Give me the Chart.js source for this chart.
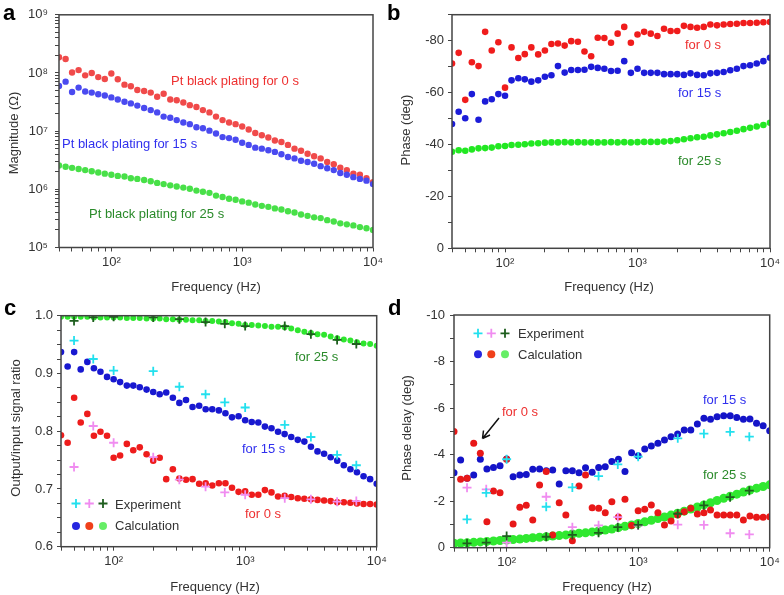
<!DOCTYPE html>
<html>
<head>
<meta charset="utf-8">
<script src="https://cdn.jsdelivr.net/npm/chart.js"></script>
<style>
  html, body { margin: 0; padding: 0; background: #fff; }
  #page { position: relative; width: 784px; height: 595px; overflow: hidden; font-family: "Liberation Sans", Arial, sans-serif; }
  #page canvas { position: absolute; left: 0; top: 0; }
  .t { position: absolute; font-size: 13px; line-height: 13px; white-space: nowrap; color: #333; }
  .xt { transform: translateX(-50%); }
  .yt { transform: translate(-50%, -50%) rotate(-90deg); }
  .letter { position: absolute; font-weight: bold; font-size: 22px; line-height: 22px; color: #000; }
  .red { color: #ee3030; }
  .blue { color: #3030ee; }
  .green { color: #2a8a2a; }
</style>
</head>
<body>
<div id="page">
  <canvas id="chartA" width="784" height="595"></canvas>
  <canvas id="chartB" width="784" height="595"></canvas>
  <canvas id="chartC" width="784" height="595"></canvas>
  <canvas id="chartD" width="784" height="595"></canvas>

  <div class="letter" style="left:3px; top:2px;">a</div>
  <div class="letter" style="left:387px; top:2px;">b</div>
  <div class="letter" style="left:4px; top:297px;">c</div>
  <div class="letter" style="left:388px; top:297px;">d</div>

  <div class="t yt" style="left:13px; top:133px;">Magnitude (Ω)</div>
  <div class="t yt" style="left:405px; top:130px;">Phase (deg)</div>
  <div class="t yt" style="left:15px; top:428px;">Output/input signal ratio</div>
  <div class="t yt" style="left:406px; top:428px;">Phase delay (deg)</div>

  <div class="t xt" style="left:216px; top:280px;">Frequency (Hz)</div>
  <div class="t xt" style="left:609px; top:280px;">Frequency (Hz)</div>
  <div class="t xt" style="left:215px; top:580px;">Frequency (Hz)</div>
  <div class="t xt" style="left:607px; top:580px;">Frequency (Hz)</div>

  <div class="t red" style="left:171px; top:74px;">Pt black plating for 0 s</div>
  <div class="t blue" style="left:62px; top:137px;">Pt black plating for 15 s</div>
  <div class="t green" style="left:89px; top:207px;">Pt black plating for 25 s</div>

  <div class="t red" style="left:685px; top:38px;">for 0 s</div>
  <div class="t blue" style="left:678px; top:86px;">for 15 s</div>
  <div class="t green" style="left:678px; top:154px;">for 25 s</div>

  <div class="t green" style="left:295px; top:350px;">for 25 s</div>
  <div class="t blue" style="left:242px; top:442px;">for 15 s</div>
  <div class="t red" style="left:245px; top:507px;">for 0 s</div>
  <div class="t" style="left:115px; top:498px;">Experiment</div>
  <div class="t" style="left:115px; top:519px;">Calculation</div>

  <div class="t" style="left:518px; top:327px;">Experiment</div>
  <div class="t" style="left:518px; top:348px;">Calculation</div>
  <div class="t red" style="left:502px; top:405px;">for 0 s</div>
  <div class="t blue" style="left:703px; top:393px;">for 15 s</div>
  <div class="t green" style="left:703px; top:468px;">for 25 s</div>
</div>

<script>
// frequency grid of the calculated curves (20 points per decade)
const freqs = [39.8, 44.7, 50.1, 56.2, 63.1, 70.8, 79.4, 89.1,
  100, 112, 126, 141, 158, 178, 200, 224, 251, 282, 316, 355, 398, 447, 501, 562, 631, 708, 794, 891,
  1000, 1122, 1259, 1413, 1585, 1778, 1995, 2239, 2512, 2818, 3162, 3548, 3981, 4467, 5012, 5623, 6310, 7079, 7943, 8913,
  10000];

// frequencies of the measured points
const expFreqs = [50, 70, 100, 200, 316, 500, 700, 1000, 2000, 3160, 5000, 7000];

// a: impedance magnitude (ohm)
const magRed = [1.86e8, 1.74e8, 1.02e8, 1.12e8, 9.1e7, 1.0e8, 8.5e7, 7.9e7, 9.8e7, 7.8e7,
  6.3e7, 5.9e7, 5.1e7, 4.9e7, 4.6e7, 3.9e7, 4.4e7, 3.5e7, 3.4e7, 3.1e7,
  2.8e7, 2.6e7, 2.3e7, 2.1e7, 1.78e7, 1.55e7, 1.41e7, 1.32e7, 1.20e7, 1.07e7,
  9.3e6, 8.5e6, 7.8e6, 6.9e6, 6.5e6, 5.8e6, 5.0e6, 4.6e6, 4.1e6, 3.7e6,
  3.4e6, 2.95e6, 2.7e6, 2.35e6, 2.14e6, 1.86e6, 1.78e6, 1.55e6, 1.32e6];
const magBlue = [6.0e7, 7.1e7, 4.7e7, 5.6e7, 4.8e7, 4.6e7, 4.3e7, 4.1e7, 3.8e7, 3.5e7,
  3.2e7, 3.0e7, 2.75e7, 2.5e7, 2.3e7, 2.1e7, 1.78e7, 1.70e7, 1.55e7, 1.41e7,
  1.32e7, 1.17e7, 1.12e7, 1.02e7, 9.1e6, 7.9e6, 7.6e6, 7.1e6, 6.3e6, 5.8e6,
  5.2e6, 5.0e6, 4.7e6, 4.4e6, 4.0e6, 3.6e6, 3.4e6, 3.1e6, 2.95e6, 2.75e6,
  2.5e6, 2.3e6, 2.14e6, 1.91e6, 1.78e6, 1.62e6, 1.51e6, 1.41e6, 1.23e6];
const magGreen = [2.57e6, 2.45e6, 2.34e6, 2.24e6, 2.14e6, 2.04e6, 1.95e6, 1.86e6, 1.78e6, 1.70e6,
  1.66e6, 1.55e6, 1.51e6, 1.45e6, 1.38e6, 1.29e6, 1.23e6, 1.17e6, 1.12e6, 1.07e6,
  1.02e6, 9.5e5, 9.1e5, 8.7e5, 7.8e5, 7.4e5, 6.9e5, 6.6e5, 6.2e5, 5.9e5,
  5.5e5, 5.2e5, 5.0e5, 4.7e5, 4.5e5, 4.2e5, 4.0e5, 3.7e5, 3.5e5, 3.3e5,
  3.2e5, 2.95e5, 2.8e5, 2.6e5, 2.5e5, 2.4e5, 2.24e5, 2.14e5, 2.0e5];

// b: impedance phase (deg)
const phaseRed = [-71.2, -75.3, -57.2, -71.7, -70.2, -83.4, -76.2, -79.4, -61.9, -77.4,
  -73.3, -74.8, -77.4, -74.7, -76.2, -78.7, -78.9, -78.1, -79.8, -79.6,
  -75.8, -74.0, -81.1, -81.0, -79.2, -82.7, -85.3, -79.2, -82.4, -83.4,
  -82.7, -81.8, -84.6, -83.7, -83.7, -85.7, -85.3, -85.0, -85.3, -86.2,
  -85.9, -86.2, -86.4, -86.5, -86.8, -86.8, -86.9, -87.1, -87.2];
const phaseBlue = [-47.9, -52.6, -50.1, -59.4, -49.5, -56.6, -57.4, -59.4, -58.8, -64.7,
  -65.5, -65.1, -64.2, -64.7, -66.1, -66.7, -70.2, -67.7, -68.7, -68.7,
  -68.8, -69.9, -69.5, -69.2, -68.3, -68.4, -72.1, -67.6, -69.2, -67.6,
  -67.6, -67.6, -67.1, -67.1, -67.1, -66.8, -67.4, -66.8, -66.7, -67.4,
  -67.6, -67.9, -68.6, -69.2, -70.2, -70.5, -71.2, -72.1, -73.4];
const phaseGreen = [-37.2, -37.8, -37.6, -38.1, -38.5, -38.6, -38.8, -39.3, -39.4, -39.8,
  -39.9, -40.1, -40.4, -40.5, -40.7, -40.8, -40.8, -40.9, -40.8, -40.9,
  -40.8, -40.8, -40.8, -40.8, -40.9, -40.8, -40.9, -40.8, -40.9, -41.0,
  -41.0, -41.0, -41.1, -41.3, -41.6, -42.0, -42.4, -42.8, -43.0, -43.5,
  -43.9, -44.3, -44.8, -45.3, -45.9, -46.4, -46.9, -47.5, -48.4];

// c: output/input signal ratio
const ratioBlue = [0.937, 0.912, 0.937, 0.907, 0.920, 0.909, 0.903, 0.894, 0.890, 0.885,
  0.879, 0.879, 0.876, 0.872, 0.868, 0.864, 0.867, 0.858, 0.849, 0.854,
  0.842, 0.844, 0.838, 0.838, 0.836, 0.831, 0.824, 0.826, 0.819, 0.816,
  0.815, 0.808, 0.805, 0.799, 0.795, 0.790, 0.785, 0.782, 0.773, 0.765,
  0.761, 0.755, 0.749, 0.741, 0.734, 0.729, 0.722, 0.717, 0.709];
const ratioRed = [0.793, 0.780, 0.858, 0.815, 0.830, 0.792, 0.799, 0.792, 0.754, 0.758,
  0.778, 0.767, 0.772, 0.760, 0.749, 0.754, 0.717, 0.734, 0.718, 0.716,
  0.717, 0.709, 0.710, 0.706, 0.710, 0.710, 0.702, 0.695, 0.696, 0.690,
  0.690, 0.698, 0.694, 0.687, 0.688, 0.686, 0.684, 0.683, 0.682, 0.681,
  0.680, 0.679, 0.677, 0.677, 0.676, 0.675, 0.674, 0.674, 0.673];
const ratioGreen = [0.998, 0.998, 0.998, 0.998, 0.998, 0.997, 0.997, 0.997, 0.997, 0.997,
  0.996, 0.996, 0.996, 0.995, 0.995, 0.995, 0.994, 0.994, 0.993, 0.993,
  0.992, 0.992, 0.991, 0.991, 0.990, 0.989, 0.987, 0.986, 0.984, 0.984,
  0.983, 0.982, 0.981, 0.981, 0.980, 0.978, 0.975, 0.972, 0.970, 0.968,
  0.967, 0.964, 0.961, 0.959, 0.957, 0.954, 0.952, 0.951, 0.948];
const ratioExpCyan = [0.957, 0.925, 0.905, 0.904, 0.877, 0.864, 0.850, 0.841, 0.811, 0.790, 0.759, 0.741];
const ratioExpPink = [0.738, 0.809, 0.780, 0.755, 0.716, 0.704, 0.694, 0.690, 0.684, 0.682, 0.678, 0.679];
const ratioExpDark = [0.991, 0.997, 0.998, 0.997, 0.994, 0.989, 0.986, 0.982, 0.982, 0.968, 0.958, 0.951];

// d: phase delay (deg)
const delayBlue = [-3.22, -3.77, -2.98, -3.12, -3.80, -3.38, -3.45, -3.52, -3.81, -3.05,
  -3.12, -3.15, -3.37, -3.38, -3.31, -3.34, -2.74, -3.31, -3.31, -3.22,
  -3.44, -3.24, -3.45, -3.48, -3.70, -3.80, -3.27, -4.08, -3.95, -4.24,
  -4.37, -4.49, -4.63, -4.77, -4.89, -5.06, -5.06, -5.32, -5.56, -5.52,
  -5.63, -5.67, -5.67, -5.59, -5.52, -5.53, -5.35, -5.24, -5.03];
const delayRed = [-4.99, -2.94, -2.98, -4.49, -4.06, -1.12, -2.44, -2.36, -3.80, -1.02,
  -1.74, -1.82, -1.19, -2.69, -3.27, -0.55, -1.93, -1.41, -0.30, -2.65,
  -3.12, -1.72, -1.69, -1.50, -1.98, -1.32, -2.08, -0.95, -1.59, -1.65,
  -1.83, -1.50, -0.98, -1.15, -1.40, -1.55, -1.69, -1.45, -1.50, -1.62,
  -1.41, -1.41, -1.41, -1.41, -1.19, -1.36, -1.31, -1.31, -1.33];
const delayGreen = [-0.19, -0.20, -0.21, -0.23, -0.25, -0.27, -0.29, -0.31, -0.33, -0.35,
  -0.37, -0.40, -0.43, -0.45, -0.47, -0.50, -0.52, -0.55, -0.59, -0.62,
  -0.64, -0.68, -0.72, -0.76, -0.80, -0.86, -0.92, -0.98, -1.04, -1.11,
  -1.18, -1.25, -1.32, -1.40, -1.48, -1.57, -1.66, -1.75, -1.84, -1.93,
  -2.03, -2.12, -2.21, -2.30, -2.39, -2.48, -2.56, -2.63, -2.70];
const delayExpCyan = [-1.22, -2.36, -3.80, -1.76, -2.59, -3.08, -3.58, -3.91, -4.70, -4.90, -4.98, -4.77];
const delayExpPink = [-2.58, -2.51, -0.22, -2.19, -0.88, -0.96, -1.31, -0.95, -0.99, -0.98, -0.62, -0.57];
const delayExpDark = [-0.19, -0.22, -0.50, -0.47, -0.55, -0.64, -0.88, -0.98, -1.46, -1.82, -2.17, -2.45];

// tick positions
const freqTicks = [40, 50, 60, 70, 80, 90, 100, 200, 300, 400, 500, 600, 700, 800, 900,
  1000, 2000, 3000, 4000, 5000, 6000, 7000, 8000, 9000, 10000];
const magTicks = [1e5, 2e5, 3e5, 4e5, 5e5, 6e5, 7e5, 8e5, 9e5, 1e6, 2e6, 3e6, 4e6, 5e6, 6e6, 7e6, 8e6, 9e6,
  1e7, 2e7, 3e7, 4e7, 5e7, 6e7, 7e7, 8e7, 9e7, 1e8, 2e8, 3e8, 4e8, 5e8, 6e8, 7e8, 8e8, 9e8, 1e9];
const phaseTicks = [-90, -80, -70, -60, -50, -40, -30, -20, -10, 0];
const ratioTicks = [0.6, 0.625, 0.65, 0.675, 0.7, 0.725, 0.75, 0.775, 0.8, 0.825, 0.85, 0.875, 0.9, 0.925, 0.95, 0.975, 1.0];
const delayTicks = [-10, -9, -8, -7, -6, -5, -4, -3, -2, -1, 0];

const FONT = "'Liberation Sans', Arial, sans-serif";
const AXIS = '#444';
const SUP = '⁰¹²³⁴⁵⁶⁷⁸⁹';

function pow10Label(v) {
    const e = Math.log10(v);
    if (Math.abs(e - Math.round(e)) > 1e-9) return '';
    return '10' + String(Math.round(e)).split('').map(d => SUP[+d]).join('');
}

function pts(xs, ys) {
    return xs.map((x, i) => ({ x: x, y: ys[i] }));
}

function dots(ys, color, r) {
    return {
        data: pts(freqs, ys),
        pointStyle: 'circle',
        pointRadius: r,
        pointBackgroundColor: color,
        pointBorderWidth: 0,
        showLine: false,
        clip: 0
    };
}

function crosses(ys, color) {
    return {
        data: pts(expFreqs, ys),
        pointStyle: 'cross',
        pointRadius: 4.5,
        pointBorderColor: color,
        pointBorderWidth: 1.8,
        showLine: false,
        clip: 0
    };
}

function tickGrid() {
    return { display: true, drawOnChartArea: false, drawTicks: true, tickLength: 4, tickColor: AXIS, tickWidth: 1 };
}

function xScale() {
    return {
        type: 'logarithmic',
        min: 39.8,
        max: 10000,
        afterBuildTicks: s => { s.ticks = freqTicks.map(v => ({ value: v })); },
        afterFit: s => { s.height = 30; },
        grid: tickGrid(),
        border: { display: false },
        ticks: {
            autoSkip: false, maxRotation: 0, padding: 3, color: '#333',
            font: { family: FONT, size: 13 },
            callback: v => pow10Label(v)
        }
    };
}

function yScale(opts, values, padding, label) {
    return Object.assign({
        afterBuildTicks: s => { s.ticks = values.map(v => ({ value: v })); },
        afterFit: s => { s.width = 40; },
        grid: tickGrid(),
        border: { display: false },
        ticks: {
            autoSkip: false, padding: padding, color: '#333',
            font: { family: FONT, size: 13 },
            callback: label
        }
    }, opts);
}

// frame around the plot area + optional legend/arrow drawing
const framePlugin = {
    id: 'frame',
    afterDraw(chart, args, opts) {
        const ctx = chart.ctx, a = chart.chartArea;
        ctx.save();
        ctx.strokeStyle = AXIS;
        ctx.lineWidth = 1.5;
        ctx.strokeRect(a.left, a.top, a.right - a.left, a.bottom - a.top);
        if (opts.extra) opts.extra(ctx);
        ctx.restore();
    }
};

function legendMarks(ctx, x0, yCross, yDot) {
    const xs = [x0, x0 + 13.3, x0 + 27];
    ['#22e0ee', '#f08cf0', '#1e5e1e'].forEach((c, i) => {
        ctx.strokeStyle = c;
        ctx.lineWidth = 1.8;
        ctx.beginPath();
        ctx.moveTo(xs[i] - 4.5, yCross); ctx.lineTo(xs[i] + 4.5, yCross);
        ctx.moveTo(xs[i], yCross - 4.5); ctx.lineTo(xs[i], yCross + 4.5);
        ctx.stroke();
    });
    ['#2626e0', '#f0401a', '#66ee66'].forEach((c, i) => {
        ctx.fillStyle = c;
        ctx.beginPath();
        ctx.arc(xs[i], yDot, 4, 0, Math.PI * 2);
        ctx.fill();
    });
}

function makePanel(id, padding, y, datasets, extra) {
    return new Chart(document.getElementById(id), {
        type: 'scatter',
        data: { datasets: datasets },
        options: {
            responsive: false,
            animation: false,
            events: [],
            layout: { padding: padding },
            plugins: { legend: { display: false }, tooltip: { enabled: false }, frame: { extra: extra } },
            scales: { x: xScale(), y: y }
        },
        plugins: [framePlugin]
    });
}

makePanel('chartA', { left: 19, right: 411, top: 14.7, bottom: 317.5 },
    yScale({ type: 'logarithmic', min: 1e5, max: 1e9 }, magTicks, 7, v => pow10Label(v)),
    [
        dots(magBlue, '#4a4af0', 3.2),
        dots(magRed, '#f04a4a', 3.2),
        dots(magGreen, '#48e048', 3.2)
    ]);

makePanel('chartB', { left: 412, right: 14, top: 14.7, bottom: 316.7 },
    yScale({ type: 'linear', min: -90, max: 0, reverse: true }, phaseTicks, 4, v => (v % 20 === 0 ? String(v) : '')),
    [
        dots(phaseRed, '#f01c1c', 3.3),
        dots(phaseBlue, '#1c1cd8', 3.3),
        dots(phaseGreen, '#22e822', 3.3)
    ]);

makePanel('chartC', { left: 21, right: 407.3, top: 315.7, bottom: 18.3 },
    yScale({ type: 'linear', min: 0.6, max: 1.0 }, ratioTicks, 4,
        v => (Math.abs(v * 10 - Math.round(v * 10)) < 1e-6 ? v.toFixed(1) : '')),
    [
        crosses(ratioExpDark, '#1e5e1e'),
        crosses(ratioExpCyan, '#22e0ee'),
        crosses(ratioExpPink, '#f08cf0'),
        dots(ratioGreen, '#2ee62e', 3),
        dots(ratioBlue, '#1818d0', 3.3),
        dots(ratioRed, '#ee1c1c', 3.3)
    ],
    ctx => legendMarks(ctx, 76, 503.5, 526));

makePanel('chartD', { left: 414, right: 14.3, top: 315, bottom: 17.3 },
    yScale({ type: 'linear', min: -10, max: 0, reverse: true }, delayTicks, 5, v => (v % 2 === 0 ? String(v) : '')),
    [
        crosses(delayExpDark, '#1e5e1e'),
        crosses(delayExpCyan, '#22e0ee'),
        crosses(delayExpPink, '#f08cf0'),
        dots(delayRed, '#e81818', 3.5),
        dots(delayBlue, '#1414c8', 3.5),
        dots(delayGreen, '#30e830', 4.5)
    ],
    ctx => {
        legendMarks(ctx, 478, 333.3, 354.3);
        // arrow pointing at the 0 s curve
        ctx.strokeStyle = '#111';
        ctx.lineWidth = 1.5;
        ctx.beginPath();
        ctx.moveTo(499, 418); ctx.lineTo(482.5, 438.5);
        ctx.moveTo(482.5, 438.5); ctx.lineTo(483.5, 430.5);
        ctx.moveTo(482.5, 438.5); ctx.lineTo(490, 435);
        ctx.stroke();
    });
</script>
</body>
</html>
